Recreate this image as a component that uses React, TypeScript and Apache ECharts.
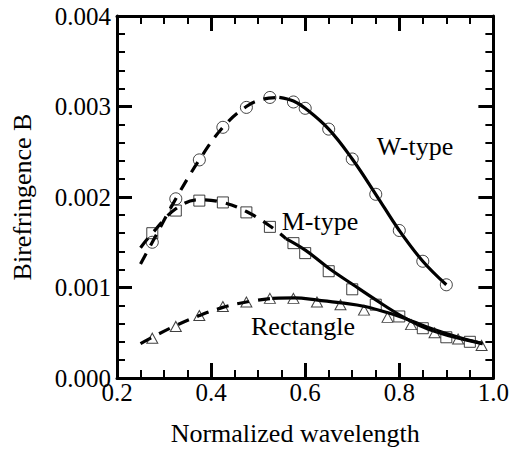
import React, { useEffect, useRef } from "react";
import * as echarts from "echarts";

// Markers (measured points)
const wX = [0.275, 0.325, 0.375, 0.425, 0.475, 0.525, 0.575, 0.6, 0.65, 0.7, 0.75, 0.8, 0.85, 0.9];
const wY = [0.0015, 0.00198, 0.00241, 0.00277, 0.00299, 0.0031, 0.00305, 0.00298, 0.00275, 0.00242, 0.00203, 0.00163, 0.00129, 0.00103];

const mX = [0.275, 0.325, 0.375, 0.425, 0.475, 0.525, 0.575, 0.6, 0.65, 0.7, 0.75, 0.8, 0.85, 0.9, 0.95];
const mY = [0.0016, 0.00185, 0.00196, 0.00194, 0.00183, 0.00167, 0.00149, 0.00138, 0.00118, 0.00098, 0.00081, 0.00068, 0.00055, 0.00045, 0.0004];

const rX = [0.275, 0.325, 0.375, 0.425, 0.475, 0.525, 0.575, 0.625, 0.675, 0.725, 0.775, 0.825, 0.875, 0.925, 0.975];
const rY = [0.00044, 0.00057, 0.00069, 0.00079, 0.00084, 0.00088, 0.00088, 0.00084, 0.00081, 0.00075, 0.00067, 0.00059, 0.0005, 0.00043, 0.00036];

// Fitted curves: dashed part and solid part
const wDashX = [0.25, 0.275, 0.325, 0.375, 0.425, 0.475, 0.51, 0.545];
const wDashY = [0.00126, 0.0015, 0.00198, 0.00241, 0.00277, 0.003, 0.00308, 0.0031];
const wSolidX = [0.545, 0.575, 0.6, 0.65, 0.7, 0.75, 0.8, 0.85, 0.9];
const wSolidY = [0.0031, 0.00306, 0.00298, 0.00275, 0.00242, 0.00203, 0.00163, 0.00129, 0.00103];

const mDashX = [0.25, 0.275, 0.325, 0.375, 0.425, 0.475, 0.525, 0.559];
const mDashY = [0.00144, 0.0016, 0.00187, 0.00197, 0.00194, 0.00184, 0.00168, 0.00154];
const mSolidX = [0.559, 0.601, 0.651, 0.702, 0.751, 0.803, 0.852, 0.903, 0.951, 0.977];
const mSolidY = [0.00154, 0.00141, 0.00121, 0.00103, 0.00086, 0.00069, 0.00056, 0.00047, 0.00041, 0.00038];

const rDashX = [0.25, 0.275, 0.325, 0.375, 0.425, 0.475, 0.53];
const rDashY = [0.00038, 0.00045, 0.00058, 0.00069, 0.00078, 0.00084, 0.00088];
const rSolidX = [0.53, 0.577, 0.627, 0.677, 0.727, 0.776, 0.826, 0.877, 0.926, 0.977];
const rSolidY = [0.00088, 0.000885, 0.00086, 0.00083, 0.00079, 0.00072, 0.00063, 0.00053, 0.00045, 0.00038];

const xTicks = { min: 0.2, max: 1.0, interval: 0.2 };
const yTicks = { min: 0, max: 0.004, interval: 0.001 };

const FONT = "Times New Roman";

const zip = (xs: number[], ys: number[]) => xs.map((x, i) => [x, ys[i]]);

export default function App() {
  const ref = useRef<HTMLDivElement>(null);
  useEffect(() => {
    if (!ref.current) return;
    const chart = echarts.init(ref.current, null, { renderer: "svg" });
    const axisLine = { show: true, onZero: false, lineStyle: { color: "#000", width: 3 } };
    const tick = { show: true, inside: true, length: 15, lineStyle: { color: "#000", width: 3 } };
    const minor = (n: number) => ({ show: true, splitNumber: n, length: 8, lineStyle: { color: "#000", width: 2 } });
    const label = { color: "#000", fontSize: 25, fontFamily: FONT };

    const lineSeries = (xs: number[], ys: number[], dashed: boolean) => ({
      type: "line",
      data: zip(xs, ys),
      smooth: 0.4,
      showSymbol: false,
      symbol: "none",
      lineStyle: { color: "#000", width: 3.2, type: dashed ? [12, 9] : "solid" },
      z: 2,
    });
    const markerSeries = (xs: number[], ys: number[], symbol: string, size: number | number[]) => ({
      type: "scatter",
      data: zip(xs, ys),
      symbol,
      symbolSize: size,
      itemStyle: { color: "rgba(0,0,0,0)", borderColor: "#111", borderWidth: 1 },
      z: 3,
    });

    chart.setOption({
      animation: false,
      backgroundColor: "#fff",
      textStyle: { fontFamily: FONT },
      grid: { left: 117, right: 17, top: 16, bottom: 68 },
      xAxis: [
        {
          type: "value",
          position: "bottom",
          ...xTicks,
          axisLine,
          axisTick: tick,
          minorTick: minor(4),
          splitLine: { show: false },
          axisLabel: { ...label, margin: 2, formatter: (v: number) => v.toFixed(1) },
          name: "Normalized wavelength",
          nameLocation: "middle",
          nameGap: 42,
          nameTextStyle: { color: "#000", fontSize: 26, fontFamily: FONT, padding: [0, 20, 0, 0] },
        },
        {
          type: "value",
          position: "top",
          ...xTicks,
          axisLine,
          axisTick: tick,
          minorTick: minor(4),
          splitLine: { show: false },
          axisLabel: { show: false },
        },
      ],
      yAxis: [
        {
          type: "value",
          position: "left",
          ...yTicks,
          axisLine,
          axisTick: tick,
          minorTick: minor(5),
          splitLine: { show: false },
          axisLabel: { ...label, margin: 6, formatter: (v: number) => v.toFixed(3) },
          name: "Birefringence B",
          nameLocation: "middle",
          nameGap: 82,
          nameTextStyle: { color: "#000", fontSize: 26, fontFamily: FONT },
        },
        {
          type: "value",
          position: "right",
          ...yTicks,
          axisLine,
          axisTick: tick,
          minorTick: minor(5),
          splitLine: { show: false },
          axisLabel: { show: false },
        },
      ],
      series: [
        lineSeries(wDashX, wDashY, true),
        lineSeries(wSolidX, wSolidY, false),
        lineSeries(mDashX, mDashY, true),
        lineSeries(mSolidX, mSolidY, false),
        lineSeries(rDashX, rDashY, true),
        lineSeries(rSolidX, rSolidY, false),
        markerSeries(wX, wY, "circle", 12),
        markerSeries(mX, mY, "rect", 11),
        markerSeries(rX, rY, "triangle", [11, 10]),
      ],
      graphic: [
        { type: "text", x: 415, y: 146, style: { text: "W-type", fontSize: 26, fontFamily: FONT, fill: "#000", align: "center", verticalAlign: "middle" } },
        { type: "text", x: 320, y: 221, style: { text: "M-type", fontSize: 26, fontFamily: FONT, fill: "#000", align: "center", verticalAlign: "middle" } },
        { type: "text", x: 303, y: 326, style: { text: "Rectangle", fontSize: 26, fontFamily: FONT, fill: "#000", align: "center", verticalAlign: "middle" } },
      ],
    });
    return () => chart.dispose();
  }, []);
  return <div ref={ref} style={{ position: "fixed", left: 0, top: 0, width: 512, height: 451 }} />;
}
